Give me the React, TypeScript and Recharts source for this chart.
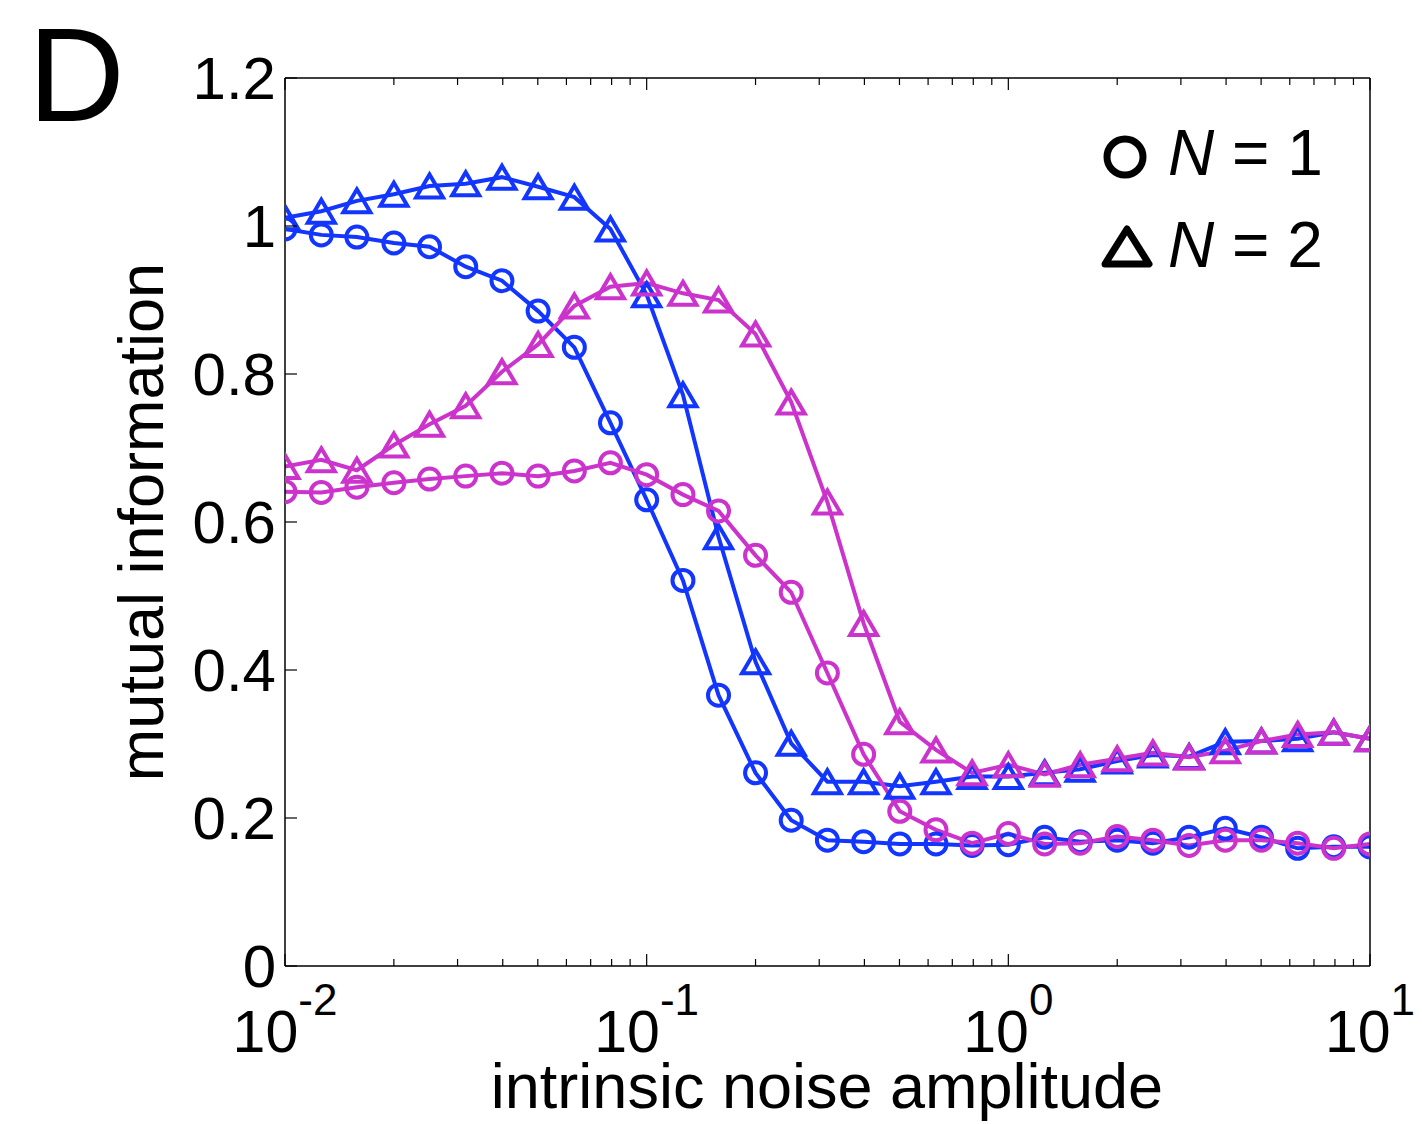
import { Customized, Line, LineChart, XAxis, YAxis } from 'recharts'

// noise amplitude, 10 points per decade
const noise = [
  0.01, 0.0126, 0.0158, 0.02, 0.0251, 0.0316, 0.0398, 0.0501, 0.0631, 0.0794,
  0.1, 0.126, 0.158, 0.2, 0.251, 0.316, 0.398, 0.501, 0.631, 0.794,
  1, 1.26, 1.58, 2, 2.51, 3.16, 3.98, 5.01, 6.31, 7.94, 10,
]

const blueN1 = [
  0.996, 0.988, 0.985, 0.977, 0.972, 0.945, 0.926, 0.885, 0.836, 0.734,
  0.63, 0.521, 0.366, 0.261, 0.197, 0.17, 0.168, 0.165, 0.165, 0.163,
  0.164, 0.174, 0.168, 0.17, 0.166, 0.174, 0.186, 0.174, 0.159, 0.161, 0.161,
]
const blueN2 = [
  1.011, 1.02, 1.034, 1.043, 1.054, 1.057, 1.066, 1.053, 1.039, 0.996,
  0.907, 0.772, 0.58, 0.411, 0.301, 0.249, 0.249, 0.243, 0.249, 0.256,
  0.256, 0.261, 0.266, 0.277, 0.285, 0.283, 0.303, 0.304, 0.307, 0.316, 0.307,
]
const magentaN1 = [
  0.641, 0.64, 0.647, 0.653, 0.658, 0.662, 0.666, 0.662, 0.669, 0.68,
  0.664, 0.637, 0.615, 0.555, 0.505, 0.396, 0.286, 0.209, 0.184, 0.166,
  0.179, 0.165, 0.166, 0.175, 0.17, 0.163, 0.17, 0.17, 0.166, 0.159, 0.165,
]
const magentaN2 = [
  0.675, 0.684, 0.67, 0.704, 0.732, 0.757, 0.803, 0.84, 0.892, 0.918,
  0.923, 0.909, 0.9, 0.854, 0.762, 0.627, 0.463, 0.33, 0.292, 0.261,
  0.272, 0.259, 0.272, 0.28, 0.288, 0.282, 0.291, 0.304, 0.313, 0.316, 0.307,
]

const xMajor = [0.01, 0.1, 1, 10]
const xExponents = ['-2', '-1', '0', '1']
const xMinor = [
  0.02, 0.03, 0.04, 0.05, 0.06, 0.07, 0.08, 0.09,
  0.2, 0.3, 0.4, 0.5, 0.6, 0.7, 0.8, 0.9,
  2, 3, 4, 5, 6, 7, 8, 9,
]
const yTicks = [0, 0.2, 0.4, 0.6, 0.8, 1, 1.2]
const yTickLabels = ['0', '0.2', '0.4', '0.6', '0.8', '1', '1.2']

const BLUE = '#1236ff'
const MAGENTA = '#cc33cc'
const FONT = '"Liberation Sans", Arial, Helvetica, sans-serif'

const data = noise.map((x, i) => ({
  x,
  b1: blueN1[i],
  b2: blueN2[i],
  m1: magentaN1[i],
  m2: magentaN2[i],
}))

function circleDot(color: string) {
  return (p: any) => (
    <circle key={`c-${p.index}`} cx={p.cx} cy={p.cy} r={10.5} fill="none" stroke={color} strokeWidth={4} />
  )
}

function triangleDot(color: string) {
  return (p: any) => {
    const w = 13.5
    const h = 11.5
    return (
      <path
        key={`t-${p.index}`}
        d={`M${p.cx},${p.cy - h}L${p.cx + w},${p.cy + h}L${p.cx - w},${p.cy + h}Z`}
        fill="none"
        stroke={color}
        strokeWidth={4}
        strokeLinejoin="miter"
      />
    )
  }
}

function BottomTick({ x, y, payload }: any) {
  const idx = xMajor.indexOf(payload.value)
  const major = idx >= 0
  return (
    <g>
      <line x1={x} x2={x} y1={y} y2={y - (major ? 12 : 7)} stroke="#000" strokeWidth={1.2} />
      {major && (
        <text x={x} y={y + 86} textAnchor="middle" fontSize={59} fontFamily={FONT} fill="#000">
          <tspan>10</tspan>
          <tspan dy={-37} fontSize={44}>{xExponents[idx]}</tspan>
        </text>
      )}
    </g>
  )
}

function TopTick({ x, y, payload }: any) {
  const major = xMajor.includes(payload.value)
  return <line x1={x} x2={x} y1={y} y2={y + (major ? 12 : 7)} stroke="#000" strokeWidth={1.2} />
}

function LeftTick({ x, y, payload }: any) {
  const idx = yTicks.indexOf(payload.value)
  return (
    <g>
      <line x1={x} x2={x + 12} y1={y} y2={y} stroke="#000" strokeWidth={1.2} />
      <text x={x - 9} y={y + 21} textAnchor="end" fontSize={60} fontFamily={FONT} fill="#000">
        {yTickLabels[idx]}
      </text>
    </g>
  )
}

function RightTick({ x, y }: any) {
  return <line x1={x} x2={x - 12} y1={y} y2={y} stroke="#000" strokeWidth={1.2} />
}

function Annotations() {
  return (
    <g fontFamily={FONT} fill="#000">
      <text x={28} y={121} fontSize={134}>D</text>
      <text transform="translate(163,522) rotate(-90)" textAnchor="middle" fontSize={63}>
        mutual information
      </text>
      <text x={827} y={1108} textAnchor="middle" fontSize={63}>
        intrinsic noise amplitude
      </text>
      {/* legend */}
      <circle cx={1125} cy={157} r={18} fill="none" stroke="#000" strokeWidth={7} />
      <text x={1168} y={175} fontSize={64}>
        <tspan fontStyle="italic">N</tspan> = 1
      </text>
      <path
        d="M1127,229L1149,264L1105,264Z"
        fill="none"
        stroke="#000"
        strokeWidth={7}
        strokeLinejoin="round"
      />
      <text x={1168} y={267} fontSize={64}>
        <tspan fontStyle="italic">N</tspan> = 2
      </text>
    </g>
  )
}

export default function App() {
  const xTicks = [...xMajor, ...xMinor].sort((a, b) => a - b)
  return (
    <div style={{ position: 'absolute', left: 0, top: 0, background: '#fff' }}>
      <LineChart width={1422} height={1124} data={data} margin={{ top: 68, right: 42, bottom: 58, left: 185 }}>
        <XAxis
          xAxisId="bottom"
          dataKey="x"
          type="number"
          scale="log"
          domain={[0.01, 10]}
          ticks={xTicks}
          interval={0}
          height={100}
          tickSize={0}
          tickMargin={0}
          tickLine={false}
          tick={<BottomTick />}
          axisLine={{ stroke: '#000', strokeWidth: 1.5 }}
          allowDataOverflow
        />
        <XAxis
          xAxisId="top"
          orientation="top"
          dataKey="x"
          type="number"
          scale="log"
          domain={[0.01, 10]}
          ticks={xTicks}
          interval={0}
          height={10}
          tickSize={0}
          tickMargin={0}
          tickLine={false}
          tick={<TopTick />}
          axisLine={{ stroke: '#000', strokeWidth: 1.5 }}
          allowDataOverflow
        />
        <YAxis
          yAxisId="left"
          type="number"
          domain={[0, 1.2]}
          ticks={yTicks}
          interval={0}
          width={100}
          tickSize={0}
          tickMargin={0}
          tickLine={false}
          tick={<LeftTick />}
          axisLine={{ stroke: '#000', strokeWidth: 1.5 }}
        />
        <YAxis
          yAxisId="right"
          orientation="right"
          type="number"
          domain={[0, 1.2]}
          ticks={yTicks}
          interval={0}
          width={10}
          tickSize={0}
          tickMargin={0}
          tickLine={false}
          tick={<RightTick />}
          axisLine={{ stroke: '#000', strokeWidth: 1.5 }}
        />
        <Line xAxisId="bottom" yAxisId="left" type="linear" dataKey="b1" stroke={BLUE} strokeWidth={4} dot={circleDot(BLUE)} isAnimationActive={false} />
        <Line xAxisId="bottom" yAxisId="left" type="linear" dataKey="b2" stroke={BLUE} strokeWidth={4} dot={triangleDot(BLUE)} isAnimationActive={false} />
        <Line xAxisId="bottom" yAxisId="left" type="linear" dataKey="m1" stroke={MAGENTA} strokeWidth={4} dot={circleDot(MAGENTA)} isAnimationActive={false} />
        <Line xAxisId="bottom" yAxisId="left" type="linear" dataKey="m2" stroke={MAGENTA} strokeWidth={4} dot={triangleDot(MAGENTA)} isAnimationActive={false} />
        <Customized component={<Annotations />} />
      </LineChart>
    </div>
  )
}
